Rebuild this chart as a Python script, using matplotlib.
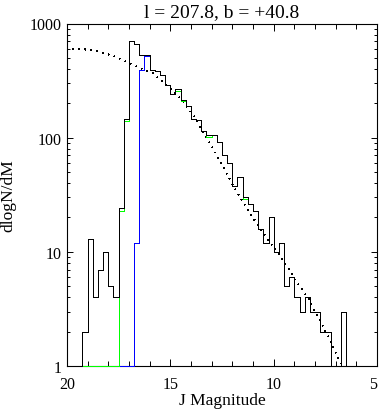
import matplotlib
matplotlib.use("Agg")
import matplotlib.pyplot as plt
import numpy as np
from matplotlib.ticker import FixedLocator, NullFormatter

# J magnitude bins (0.25 mag wide, bright end last)
bin_edges = np.arange(19.25, 6.4, -0.25)

total_counts = [2, 13, 4, 7, 10, 5, 4, 24, 145, 705, 668, 535, 535, 394, 385, 355,
                292, 242, 265, 214, 190, 147, 143, 115, 105, 105, 92, 71, 60, 38, 45,
                30, 26, 23, 16, 12, 20, 10, 12, 5, 6, 4, 3, 4, 3, 3, 2, 2, 0, 0, 3]
green_counts = [0, 0, 0, 0, 0, 0, 0, 23, 140, 705, 668, 535, 535, 394, 385, 355,
                292, 242, 258, 208, 190, 147, 143, 115, 102, 105, 92, 71, 60, 38, 45,
                29, 26, 23, 16, 12, 20, 10, 12, 5, 6, 4, 3, 4, 3, 3, 2, 2, 0, 0, 3]
blue_counts = [0, 0, 0, 0, 0, 0, 0, 0, 0, 0, 12, 394, 520, 394, 385, 355,
               292, 242, 265, 214, 190, 147, 143, 115, 105, 105, 92, 71, 60, 38, 45,
               30, 26, 23, 16, 12, 20, 10, 12, 5, 6, 4, 3, 4, 3, 3, 2, 2, 0, 0, 3]

# model prediction (dotted curve)
model_mag = [20.0, 19.06, 18.42, 17.77, 17.13, 16.48, 15.89, 15.40, 14.87, 14.37,
             13.90, 13.66, 12.89, 12.41, 11.92, 11.39, 10.89, 10.40, 9.89, 9.39,
             8.92, 8.39, 7.90, 7.42, 6.90, 6.6]
model_counts = [604, 591, 565, 521, 461, 408, 372, 314, 258, 208,
                157, 135, 78, 53.5, 37, 25.5, 18.6, 13.7, 10.3, 7.6,
                5.5, 4.1, 2.8, 1.9, 1.2, 0.95]

title = "l = 207.8, b = +40.8"

plt.rcParams.update({
    "font.family": ["Liberation Serif", "DejaVu Serif"],
    "font.size": 11.5,
    "axes.linewidth": 0.8,
})

fig = plt.figure(figsize=(3.8, 4.14), dpi=100)
ax = fig.add_axes([67 / 380, 47 / 414, 310 / 380, 342.5 / 414])

for counts, color, z in [(blue_counts, "#0000ff", 3), (green_counts, "#00ff00", 3.1),
                         (total_counts, "black", 3.2)]:
    ax.stairs(np.maximum(counts, 1), bin_edges, baseline=1, color=color,
              lw=0.7, zorder=z, clip_on=False, antialiased=False)
ax.plot(model_mag, model_counts, color="black", lw=0.5,
        linestyle=(0, (1.4, 8)), dash_capstyle="butt", zorder=2, antialiased=False)

ax.set_yscale("log")
ax.set_xlim(20, 5)
ax.set_ylim(1, 1000)

ax.xaxis.set_major_locator(FixedLocator([20, 15, 10, 5]))
ax.xaxis.set_minor_locator(FixedLocator([19, 18, 17, 16, 14, 13, 12, 11, 9, 8, 7, 6]))
ax.set_xticklabels(["20", "15", "10", "5"])
ax.get_xticklabels()[-1].set_ha("right")
ax.yaxis.set_major_locator(FixedLocator([1, 10, 100, 1000]))
ax.set_yticklabels(["1", "10", "100", "1000"])
ax.yaxis.set_minor_formatter(NullFormatter())

ax.tick_params(which="both", direction="in", top=True, right=True, width=0.7)
ax.tick_params(axis="x", which="major", length=5.3, pad=7)
ax.tick_params(axis="x", which="minor", length=3.4)
ax.tick_params(axis="y", which="major", length=4.3, pad=4)
ax.tick_params(axis="y", which="minor", length=2.4)

ax.set_xlabel("J Magnitude", fontsize=12.5)
ax.xaxis.set_label_coords(0.5, -0.075)
ax.set_ylabel("dlogN/dM", fontsize=12.5)
ax.yaxis.set_label_coords(-0.163, 0.5)

fig.text((67 + 377) / 2 / 380, 1 - 17 / 414, title, ha="center", va="baseline", fontsize=14)

fig.savefig("out.png", dpi=100)
